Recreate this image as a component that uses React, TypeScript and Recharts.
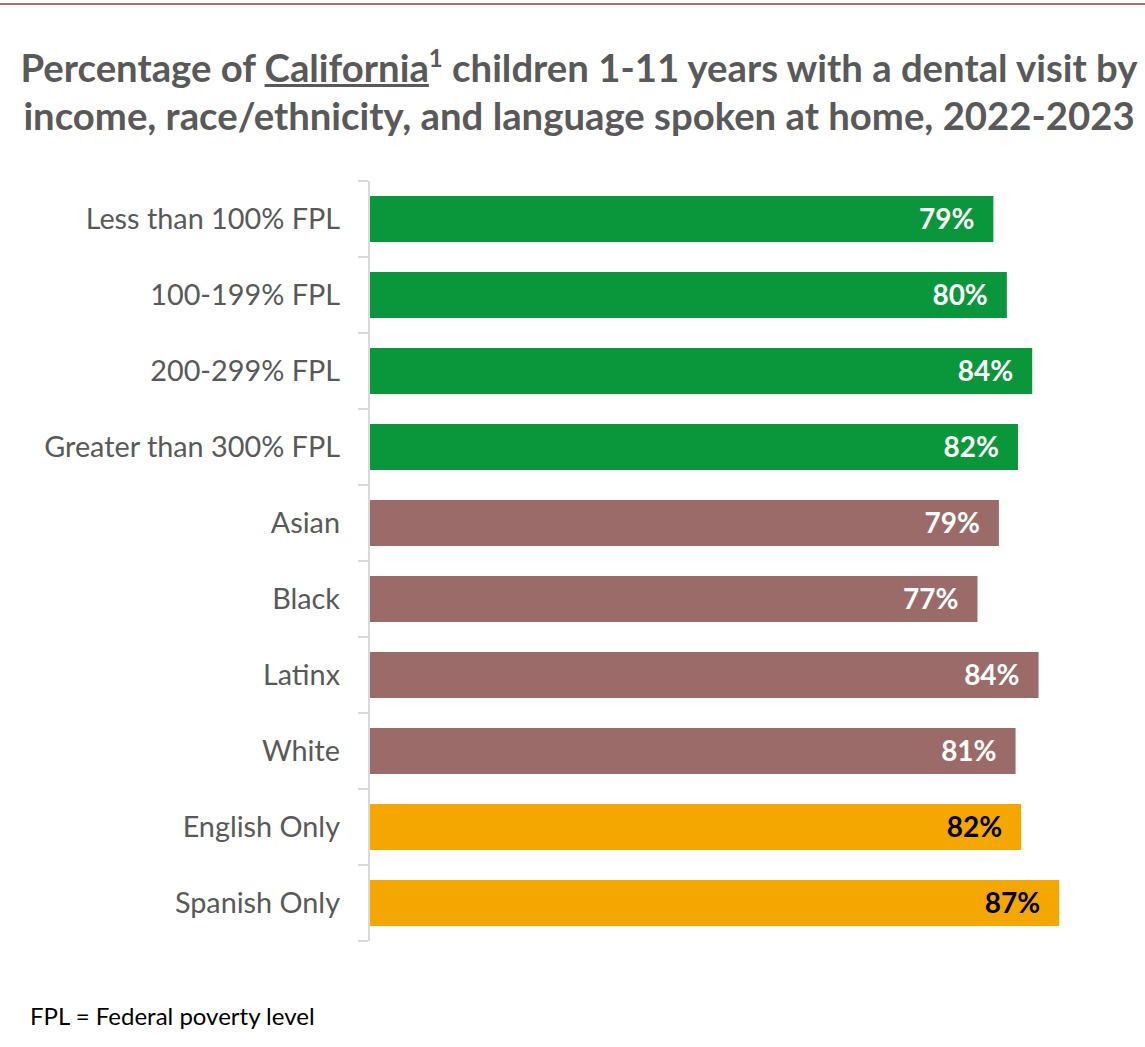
import React from 'react';
import { BarChart, Bar, XAxis, YAxis, Cell, LabelList } from 'recharts';

const categories = [
  'Less than 100% FPL',
  '100-199% FPL',
  '200-299% FPL',
  'Greater than 300% FPL',
  'Asian',
  'Black',
  'Latinx',
  'White',
  'English Only',
  'Spanish Only',
];
const values = [78.7, 80.4, 83.6, 81.8, 79.4, 76.7, 84.4, 81.5, 82.2, 87.0];
const valueLabels = ['79%', '80%', '84%', '82%', '79%', '77%', '84%', '81%', '82%', '87%'];
const groups = ['income', 'income', 'income', 'income', 'race', 'race', 'race', 'race', 'language', 'language'];

const groupFill: Record<string, string> = { income: '#0a963a', race: '#9b6b69', language: '#f4a700' };
const groupLabel: Record<string, string> = { income: '#ffffff', race: '#ffffff', language: '#000000' };

const data = categories.map((c, i) => ({ name: c, value: values[i], label: valueLabels[i], group: groups[i] }));

const W = 1145;
const H = 1047;
const PLOT_TOP = 181;
const PLOT_BOTTOM = 941;
const AXIS_W = 369;
const FONT = 'Lato, "Open Sans", sans-serif';

const CategoryTick = (props: any) => {
  const { x, y, payload, index } = props;
  const half = typeof payload?.offset === 'number' && payload.offset > 0 ? payload.offset : (PLOT_BOTTOM - PLOT_TOP) / categories.length / 2;
  const last = index === categories.length - 1;
  return (
    <g>
      <line x1={x - 11} x2={x - 1} y1={y - half} y2={y - half} stroke="#d9d9d9" strokeWidth={2} />
      {last && <line x1={x - 11} x2={x - 1} y1={y + half} y2={y + half} stroke="#d9d9d9" strokeWidth={2} />}
      <text x={x - 29} y={y} dy="0.36em" textAnchor="end" fill="#595959" fontSize={28.8} fontFamily={FONT}>
        {payload.value}
      </text>
    </g>
  );
};

const ValueLabel = (props: any) => {
  const { x, y, width, height, index } = props;
  const d = data[index];
  return (
    <text
      x={x + width - 19}
      y={y + height / 2}
      dy="0.36em"
      textAnchor="end"
      fill={groupLabel[d.group]}
      fontSize={28}
      fontWeight={700}
      fontFamily={FONT}
    >
      {d.label}
    </text>
  );
};

export default function App() {
  return (
    <div style={{ position: 'absolute', left: 0, top: 0, width: W, height: H, background: '#fff', overflow: 'hidden' }}>
      <div style={{ position: 'absolute', left: 0, top: 3, width: W, height: 2, background: '#a57272' }} />
      <div
        style={{
          position: 'absolute',
          left: 0,
          top: 43,
          width: W,
          textAlign: 'center',
          fontFamily: FONT,
          fontWeight: 700,
          fontSize: 38.3,
          lineHeight: '48px',
          color: '#595959',
          whiteSpace: 'nowrap',
        }}
      >
        <div style={{ paddingLeft: 13 }}>
          Percentage of <span style={{ textDecoration: 'underline' }}>California</span>
          <sup style={{ fontSize: 24, verticalAlign: 'top', position: 'relative', top: -9, lineHeight: '48px' }}>1</sup> children 1-11 years with a dental visit by
        </div>
        <div style={{ paddingLeft: 13 }}>income, race/ethnicity, and language spoken at home, 2022-2023</div>
      </div>
      <div style={{ position: 'absolute', left: 0, top: 0 }}>
        <BarChart
          width={W}
          height={H}
          data={data}
          layout="vertical"
          margin={{ top: PLOT_TOP, bottom: H - PLOT_BOTTOM, left: 0, right: W - 1083 }}
        >
          <XAxis type="number" domain={[0, 90]} hide />
          <YAxis
            type="category"
            dataKey="name"
            width={AXIS_W}
            tickLine={false}
            tickSize={0}
            tickMargin={0}
            axisLine={{ stroke: '#d9d9d9', strokeWidth: 2 }}
            tick={<CategoryTick />}
            interval={0}
          />
          <Bar dataKey="value" barSize={46} isAnimationActive={false}>
            {data.map((d, i) => (
              <Cell key={i} fill={groupFill[d.group]} />
            ))}
            <LabelList dataKey="label" content={<ValueLabel />} />
          </Bar>
        </BarChart>
      </div>
      <div
        style={{
          position: 'absolute',
          left: 30,
          top: 1001,
          fontFamily: FONT,
          fontSize: 24,
          color: '#000',
          whiteSpace: 'nowrap',
        }}
      >
        FPL = Federal poverty level
      </div>
    </div>
  );
}
